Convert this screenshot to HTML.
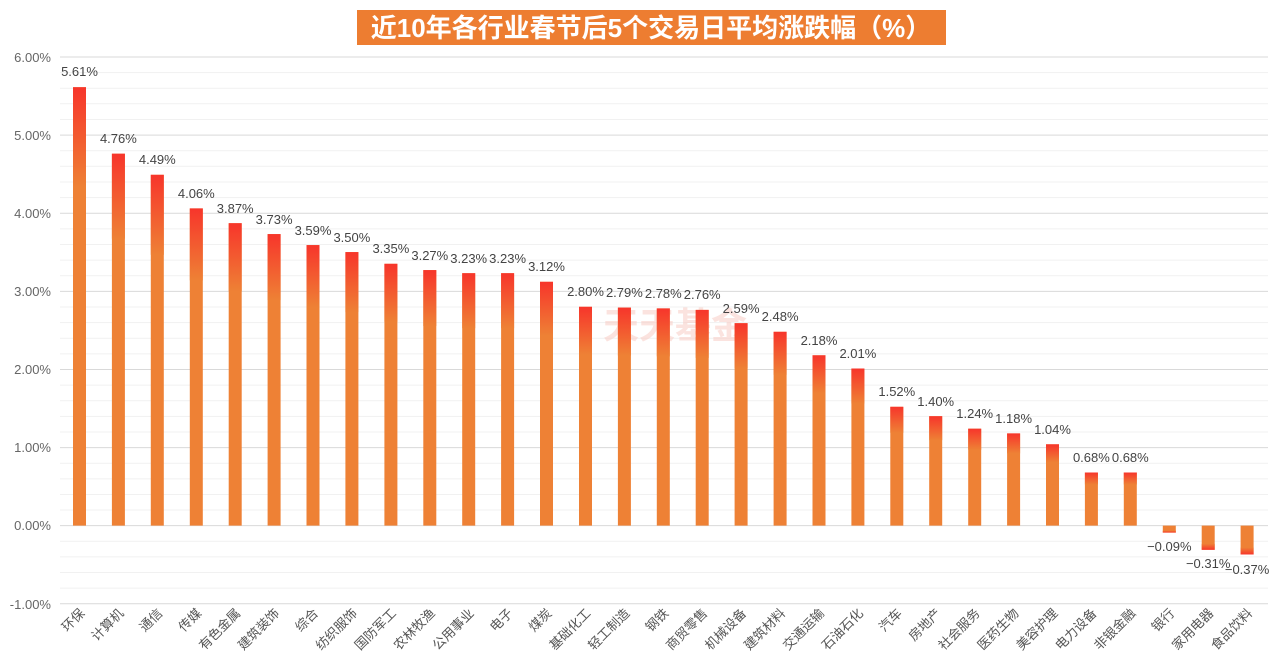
<!DOCTYPE html>
<html><head><meta charset="utf-8"><style>
html,body{margin:0;padding:0;background:#fff;}
svg text{font-family:"Liberation Sans","Noto Sans CJK SC",sans-serif;}
</style></head><body>
<svg width="1278" height="666" viewBox="0 0 1278 666" xmlns="http://www.w3.org/2000/svg">
<defs>
<linearGradient id="rt" x1="0" y1="0" x2="0" y2="1"><stop offset="0" stop-color="#f7352b"/><stop offset="1" stop-color="#ee8135"/></linearGradient>
<linearGradient id="rb" x1="0" y1="1" x2="0" y2="0"><stop offset="0" stop-color="#f7352b"/><stop offset="1" stop-color="#ee8135"/></linearGradient>
</defs>
<rect x="357" y="10" width="589" height="35" fill="#ed7d31"/>
<text x="651" y="37" font-size="26" font-weight="bold" fill="#fff" text-anchor="middle">近10年各行业春节后5个交易日平均涨跌幅（%）</text>
<g stroke="#f1f1f1" stroke-width="1">
<line x1="60" x2="1268" y1="72.6" y2="72.6"/><line x1="60" x2="1268" y1="88.2" y2="88.2"/><line x1="60" x2="1268" y1="103.8" y2="103.8"/><line x1="60" x2="1268" y1="119.5" y2="119.5"/>
<line x1="60" x2="1268" y1="150.7" y2="150.7"/><line x1="60" x2="1268" y1="166.3" y2="166.3"/><line x1="60" x2="1268" y1="182.0" y2="182.0"/><line x1="60" x2="1268" y1="197.6" y2="197.6"/>
<line x1="60" x2="1268" y1="228.9" y2="228.9"/><line x1="60" x2="1268" y1="244.5" y2="244.5"/><line x1="60" x2="1268" y1="260.1" y2="260.1"/><line x1="60" x2="1268" y1="275.7" y2="275.7"/>
<line x1="60" x2="1268" y1="307.0" y2="307.0"/><line x1="60" x2="1268" y1="322.6" y2="322.6"/><line x1="60" x2="1268" y1="338.2" y2="338.2"/><line x1="60" x2="1268" y1="353.9" y2="353.9"/>
<line x1="60" x2="1268" y1="385.1" y2="385.1"/><line x1="60" x2="1268" y1="400.8" y2="400.8"/><line x1="60" x2="1268" y1="416.4" y2="416.4"/><line x1="60" x2="1268" y1="432.0" y2="432.0"/>
<line x1="60" x2="1268" y1="463.3" y2="463.3"/><line x1="60" x2="1268" y1="478.9" y2="478.9"/><line x1="60" x2="1268" y1="494.5" y2="494.5"/><line x1="60" x2="1268" y1="510.0" y2="510.0"/>
<line x1="60" x2="1268" y1="541.2" y2="541.2"/><line x1="60" x2="1268" y1="556.9" y2="556.9"/><line x1="60" x2="1268" y1="572.5" y2="572.5"/><line x1="60" x2="1268" y1="588.1" y2="588.1"/>
</g>
<g stroke="#d9d9d9" stroke-width="1">
<line x1="60" x2="1268" y1="57" y2="57"/><line x1="60" x2="1268" y1="135.1" y2="135.1"/><line x1="60" x2="1268" y1="213.2" y2="213.2"/><line x1="60" x2="1268" y1="291.4" y2="291.4"/><line x1="60" x2="1268" y1="369.5" y2="369.5"/><line x1="60" x2="1268" y1="447.6" y2="447.6"/><line x1="60" x2="1268" y1="525.6" y2="525.6"/><line x1="60" x2="1268" y1="603.8" y2="603.8"/>
</g>
<g font-size="13" fill="#666" text-anchor="end">
<text x="51" y="62">6.00%</text><text x="51" y="140">5.00%</text><text x="51" y="218">4.00%</text><text x="51" y="296">3.00%</text><text x="51" y="374">2.00%</text><text x="51" y="452">1.00%</text><text x="51" y="530">0.00%</text><text x="51" y="609">-1.00%</text>
</g>
<text x="675" y="338" font-size="36" fill="#f8c8c0" text-anchor="middle" font-weight="bold" opacity="0.5">天天基金</text>
<g fill="#ee8135">
<rect x="73" y="87.2" width="13" height="438.4"/><rect x="111.9" y="153.7" width="13" height="371.9"/><rect x="150.8" y="174.8" width="13" height="350.8"/><rect x="189.8" y="208.4" width="13" height="317.2"/><rect x="228.7" y="223.2" width="13" height="302.4"/><rect x="267.6" y="234.1" width="13" height="291.5"/><rect x="306.5" y="245.1" width="13" height="280.5"/><rect x="345.4" y="252.1" width="13" height="273.5"/><rect x="384.4" y="263.8" width="13" height="261.8"/><rect x="423.3" y="270.1" width="13" height="255.5"/><rect x="462.2" y="273.2" width="13" height="252.4"/><rect x="501.1" y="273.2" width="13" height="252.4"/><rect x="540" y="281.8" width="13" height="243.8"/><rect x="579" y="306.8" width="13" height="218.8"/><rect x="617.9" y="307.6" width="13" height="218"/><rect x="656.8" y="308.4" width="13" height="217.2"/><rect x="695.7" y="309.9" width="13" height="215.7"/><rect x="734.6" y="323.2" width="13" height="202.4"/><rect x="773.6" y="331.8" width="13" height="193.8"/><rect x="812.5" y="355.3" width="13" height="170.3"/><rect x="851.4" y="368.5" width="13" height="157.1"/><rect x="890.3" y="406.8" width="13" height="118.8"/><rect x="929.2" y="416.2" width="13" height="109.4"/><rect x="968.2" y="428.7" width="13" height="96.9"/><rect x="1007.1" y="433.4" width="13" height="92.2"/><rect x="1046" y="444.3" width="13" height="81.3"/><rect x="1084.9" y="472.5" width="13" height="53.1"/><rect x="1123.8" y="472.5" width="13" height="53.1"/><rect x="1162.8" y="525.6" width="13" height="7"/><rect x="1201.7" y="525.6" width="13" height="24.2"/><rect x="1240.6" y="525.6" width="13" height="28.9"/>
</g>
<g fill="url(#rt)">
<rect x="73" y="87.2" width="13" height="100"/><rect x="111.9" y="153.7" width="13" height="85"/><rect x="150.8" y="174.8" width="13" height="80"/><rect x="189.8" y="208.4" width="13" height="72"/><rect x="228.7" y="223.2" width="13" height="68"/><rect x="267.6" y="234.1" width="13" height="66"/><rect x="306.5" y="245.1" width="13" height="62"/><rect x="345.4" y="252.1" width="13" height="60"/><rect x="384.4" y="263.8" width="13" height="58"/><rect x="423.3" y="270.1" width="13" height="56"/><rect x="462.2" y="273.2" width="13" height="55"/><rect x="501.1" y="273.2" width="13" height="55"/><rect x="540" y="281.8" width="13" height="54"/><rect x="579" y="306.8" width="13" height="48"/><rect x="617.9" y="307.6" width="13" height="48"/><rect x="656.8" y="308.4" width="13" height="48"/><rect x="695.7" y="309.9" width="13" height="48"/><rect x="734.6" y="323.2" width="13" height="45"/><rect x="773.6" y="331.8" width="13" height="43"/><rect x="812.5" y="355.3" width="13" height="38"/><rect x="851.4" y="368.5" width="13" height="35"/><rect x="890.3" y="406.8" width="13" height="26"/><rect x="929.2" y="416.2" width="13" height="24"/><rect x="968.2" y="428.7" width="13" height="21"/><rect x="1007.1" y="433.4" width="13" height="20"/><rect x="1046" y="444.3" width="13" height="18"/><rect x="1084.9" y="472.5" width="13" height="12"/><rect x="1123.8" y="472.5" width="13" height="12"/>
</g>
<g fill="url(#rb)">
<rect x="1162.8" y="530.6" width="13" height="2"/><rect x="1201.7" y="543.8" width="13" height="6"/><rect x="1240.6" y="547.5" width="13" height="7"/>
</g>
<g font-size="13" fill="#444" text-anchor="middle">
<text x="79.5" y="76">5.61%</text><text x="118.4" y="143">4.76%</text><text x="157.3" y="164">4.49%</text><text x="196.3" y="198">4.06%</text><text x="235.2" y="213">3.87%</text><text x="274.1" y="224">3.73%</text><text x="313" y="235">3.59%</text><text x="351.9" y="242">3.50%</text><text x="390.9" y="253">3.35%</text><text x="429.8" y="260">3.27%</text><text x="468.7" y="263">3.23%</text><text x="507.6" y="263">3.23%</text><text x="546.5" y="271">3.12%</text><text x="585.5" y="296">2.80%</text><text x="624.4" y="297">2.79%</text><text x="663.3" y="298">2.78%</text><text x="702.2" y="299">2.76%</text><text x="741.1" y="313">2.59%</text><text x="780.1" y="321">2.48%</text><text x="819" y="345">2.18%</text><text x="857.9" y="358">2.01%</text><text x="896.8" y="396">1.52%</text><text x="935.7" y="406">1.40%</text><text x="974.7" y="418">1.24%</text><text x="1013.6" y="423">1.18%</text><text x="1052.5" y="434">1.04%</text><text x="1091.4" y="462">0.68%</text><text x="1130.3" y="462">0.68%</text><text x="1169.3" y="551">−0.09%</text><text x="1208.2" y="568">−0.31%</text><text x="1247.1" y="574">−0.37%</text>
</g>
<g font-size="13" fill="#555" text-anchor="end">
<text transform="translate(85.5,614) rotate(-45)">环保</text><text transform="translate(124.4,614) rotate(-45)">计算机</text><text transform="translate(163.3,614) rotate(-45)">通信</text><text transform="translate(202.3,614) rotate(-45)">传媒</text><text transform="translate(241.2,614) rotate(-45)">有色金属</text><text transform="translate(280.1,614) rotate(-45)">建筑装饰</text><text transform="translate(319,614) rotate(-45)">综合</text><text transform="translate(357.9,614) rotate(-45)">纺织服饰</text><text transform="translate(396.9,614) rotate(-45)">国防军工</text><text transform="translate(435.8,614) rotate(-45)">农林牧渔</text><text transform="translate(474.7,614) rotate(-45)">公用事业</text><text transform="translate(513.6,614) rotate(-45)">电子</text><text transform="translate(552.5,614) rotate(-45)">煤炭</text><text transform="translate(591.5,614) rotate(-45)">基础化工</text><text transform="translate(630.4,614) rotate(-45)">轻工制造</text><text transform="translate(669.3,614) rotate(-45)">钢铁</text><text transform="translate(708.2,614) rotate(-45)">商贸零售</text><text transform="translate(747.1,614) rotate(-45)">机械设备</text><text transform="translate(786.1,614) rotate(-45)">建筑材料</text><text transform="translate(825,614) rotate(-45)">交通运输</text><text transform="translate(863.9,614) rotate(-45)">石油石化</text><text transform="translate(902.8,614) rotate(-45)">汽车</text><text transform="translate(941.7,614) rotate(-45)">房地产</text><text transform="translate(980.7,614) rotate(-45)">社会服务</text><text transform="translate(1019.6,614) rotate(-45)">医药生物</text><text transform="translate(1058.5,614) rotate(-45)">美容护理</text><text transform="translate(1097.4,614) rotate(-45)">电力设备</text><text transform="translate(1136.3,614) rotate(-45)">非银金融</text><text transform="translate(1175.3,614) rotate(-45)">银行</text><text transform="translate(1214.2,614) rotate(-45)">家用电器</text><text transform="translate(1253.1,614) rotate(-45)">食品饮料</text>
</g>
</svg>
</body></html>
